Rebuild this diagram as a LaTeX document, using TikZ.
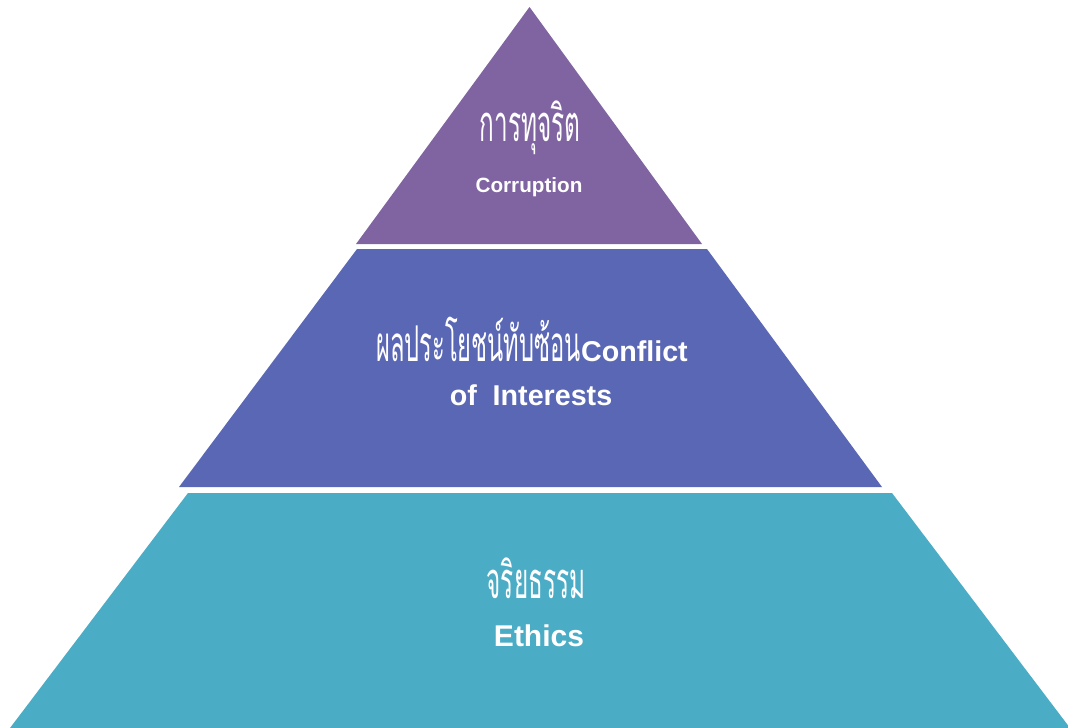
\documentclass[tikz,border=0pt]{standalone}
\usepackage{fontspec}
\setmainfont{Liberation Sans}
\newfontfamily\thaifont[Script=Thai,FakeStretch=0.48]{Loma}
\definecolor{topc}{HTML}{8064A2}
\definecolor{midc}{HTML}{5A67B4}
\definecolor{botc}{HTML}{4BACC6}
\begin{document}
\begin{tikzpicture}[x=0.75pt,y=-0.75pt,
  lbl/.style={text=white,anchor=base,inner sep=0pt,outer sep=0pt},
  thaibig/.style={lbl,font=\thaifont\fontsize{38}{42}\selectfont},
  engsmall/.style={lbl,font=\bfseries\fontsize{15.5}{18}\selectfont},
  engmid/.style={lbl,font=\bfseries\fontsize{21.5}{24}\selectfont},
  engbig/.style={lbl,font=\bfseries\fontsize{22.5}{26}\selectfont}]
\useasboundingbox (0,0) rectangle (1068,728);
% tiers
\fill[topc] (529.5,7) -- (702,244) -- (356,244) -- cycle;
\fill[midc] (357,249) -- (707,249) -- (882,487) -- (179,487) -- cycle;
\fill[botc] (188,493) -- (892,493) -- (1070,728) -- (10,728) -- cycle;
% labels
\node[thaibig] (t1) at (530,141) {การทุจริต};
\node[engsmall] (e1) at (529,192) {Corruption};
\node[lbl] (t2) at (532,361) {{\thaifont\fontsize{37}{42}\selectfont ผลประโยชน์ทับซ้อน}{\bfseries\fontsize{21.5}{24}\selectfont Conflict}};
\node[engmid] (e2) at (531,405) {of\ \ Interests};
\node[thaibig] (t3) at (536,598) {จริยธรรม};
\node[engbig] (e3) at (539,646) {Ethics};
\end{tikzpicture}
\end{document}
